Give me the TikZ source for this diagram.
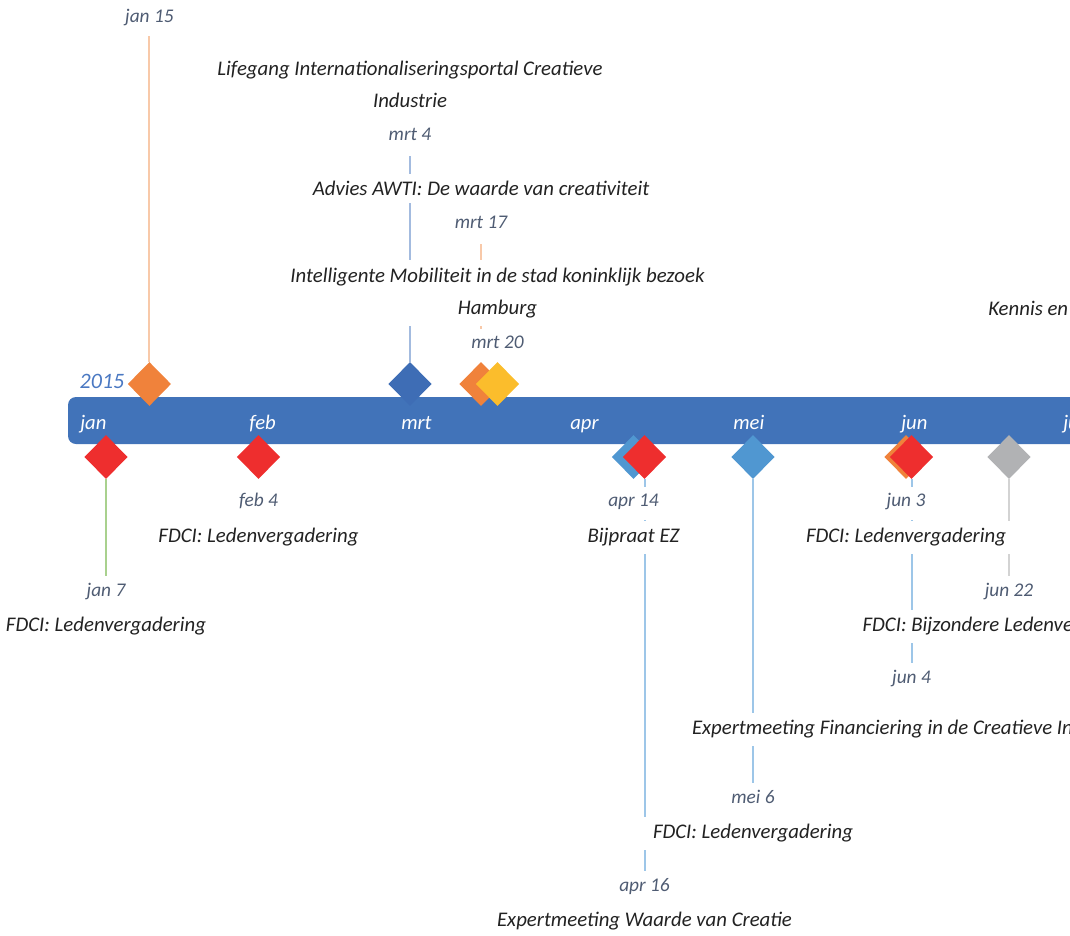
\documentclass[tikz,border=0pt]{standalone}
\usepackage{fontspec}
\setmainfont{Carlito}
\usetikzlibrary{shapes.geometric, positioning, backgrounds}

\definecolor{barblue}{HTML}{4173B9}
\definecolor{yearblue}{HTML}{4A78C2}
\definecolor{evorange}{HTML}{F0823B}
\definecolor{evdarkblue}{HTML}{3E6DB5}
\definecolor{evyellow}{HTML}{FBBD2C}
\definecolor{evred}{HTML}{EE2E2E}
\definecolor{evlightblue}{HTML}{5097D1}
\definecolor{evgrey}{HTML}{B1B2B4}
\definecolor{stemorange}{HTML}{F8C9A9}
\definecolor{stemblue}{HTML}{A3BBDF}
\definecolor{stemgreen}{HTML}{A9D18E}
\definecolor{stemsky}{HTML}{9DC6E8}
\definecolor{stemgrey}{HTML}{D3D3D3}
\definecolor{datecol}{HTML}{4F5C73}
\definecolor{titlecol}{HTML}{222222}

\begin{document}
\begin{tikzpicture}[x=0.75pt, y=-0.75pt,
	event/.style={diamond, inner sep=0pt, minimum width=32.5pt, minimum height=33pt},
	datum/.style={font=\itshape\fontsize{14.5}{17}\selectfont, text=datecol, fill=white,
		inner xsep=3pt, inner ysep=7.7pt, outer xsep=0pt, outer ysep=1.2pt,
		text height=0.7em, text depth=0.22em},
	titel/.style={font=\itshape\fontsize{15.6}{24.5}\selectfont, text=titlecol, fill=white,
		inner xsep=10pt, inner ysep=5.7pt, align=center},
	maand/.style={font=\itshape\fontsize{15.5}{18}\selectfont, text=white, anchor=base west, inner sep=0pt},
	stem/.style={line width=1.5pt}]
	\useasboundingbox (0,0) rectangle (1070,935);
	\clip (0,0) rectangle (1070,935);

	% timeline bar
	\fill[barblue, rounded corners=6pt] (68,397) rectangle (1100,444);
	\node[font=\itshape\fontsize{16.5}{20}\selectfont, text=yearblue] (year) at (102,381) {2015};
	\node[maand] (jan) at (80,429) {jan};
	\node[maand] (feb) at (249,429) {feb};
	\node[maand] (mrt) at (401,429) {mrt};
	\node[maand] (apr) at (570,429) {apr};
	\node[maand] (mei) at (733,429) {mei};
	\node[maand] (jun) at (901,429) {jun};
	\node[maand] (jul) at (1063,429) {jul};

	% events above the bar
	\node[event, fill=evorange] (jan15) at (149.4,384) {};
	\node[event, fill=evdarkblue] (mrt4) at (410,384) {};
	\node[event, fill=evorange] (mrt17) at (481,384) {};
	\node[event, fill=evyellow] (mrt20) at (497.5,384) {};

	% events below the bar
	\node[event, fill=evred] (jan7) at (106,457) {};
	\node[event, fill=evred] (feb4) at (258.5,457) {};
	\node[event, fill=evlightblue] (apr14) at (633.5,457) {};
	\node[event, fill=evred] (apr16) at (644.5,457) {};
	\node[event, fill=evlightblue] (mei6) at (753,457) {};
	\node[event, fill=evorange] (jun3) at (906,457) {};
	\node[event, fill=evred] (jun4) at (911.5,457) {};
	\node[event, fill=evgrey] (jun22) at (1009,457) {};

	% dates and titles
	\node[datum] (jan15lbl) at (149.4,19.5) {jan 15};
	\node[titel] (mrt4txt) at (410,84.5) {Lifegang Internationaliseringsportal Creatieve\\Industrie};
	\node[datum] (mrt4lbl) at (410,137.5) {mrt 4};
	\node[titel] (mrt17txt) at (481,188.5) {Advies AWTI: De waarde van creativiteit};
	\node[datum] (mrt17lbl) at (481,225.5) {mrt 17};
	\node[titel] (mrt20txt) at (497.5,293) {Intelligente Mobiliteit in de stad koninklijk bezoek\\Hamburg};
	\node[datum] (mrt20lbl) at (497.5,345.5) {mrt 20};
	\node[titel, anchor=west, inner xsep=0pt] (kennistxt) at (988,308.5) {Kennis en};

	\node[datum] (feb4lbl) at (258.5,503.5) {feb 4};
	\node[titel] (feb4txt) at (258.5,537.5) {FDCI: Ledenvergadering};
	\node[datum] (apr14lbl) at (633.5,503.5) {apr 14};
	\node[titel] (apr14txt) at (633.5,537.5) {Bijpraat EZ};
	\node[datum] (jun3lbl) at (906,503.5) {jun 3};
	\node[titel] (jun3txt) at (906,537.5) {FDCI: Ledenvergadering};
	\node[datum] (jan7lbl) at (106,593.5) {jan 7};
	\node[titel] (jan7txt) at (106,626.5) {FDCI: Ledenvergadering};
	\node[datum] (jun22lbl) at (1009,593.5) {jun 22};
	\node[titel] (jun22txt) at (1009,626.5) {FDCI: Bijzondere Ledenvergadering};
	\node[datum] (jun4lbl) at (911.5,680.5) {jun 4};
	\node[titel] (jun4txt) at (911.5,729.5) {Expertmeeting Financiering in de Creatieve Industrie};
	\node[datum] (mei6lbl) at (753,800.5) {mei 6};
	\node[titel] (mei6txt) at (753,833.5) {FDCI: Ledenvergadering};
	\node[datum] (apr16lbl) at (644.5,888.5) {apr 16};
	\node[titel] (apr16txt) at (644.5,921.5) {Expertmeeting Waarde van Creatie};

	% stems behind the texts
	\begin{scope}[on background layer]
	\path
		(jan15) edge [stem, stemorange, shorten >=-5pt] (jan15lbl)
		(mrt4) edge [stem, stemblue] (mrt4lbl)
		(mrt17) edge [stem, stemorange] (mrt17lbl)
		(jan7) edge [stem, stemgreen] (jan7lbl)
		(apr16) edge [stem, stemsky] (apr16lbl)
		(mei6) edge [stem, stemsky] (mei6lbl)
		(jun4) edge [stem, stemsky] (jun4lbl)
		(jun22) edge [stem, stemgrey] (jun22lbl)
	;
	\end{scope}
\end{tikzpicture}
\end{document}
